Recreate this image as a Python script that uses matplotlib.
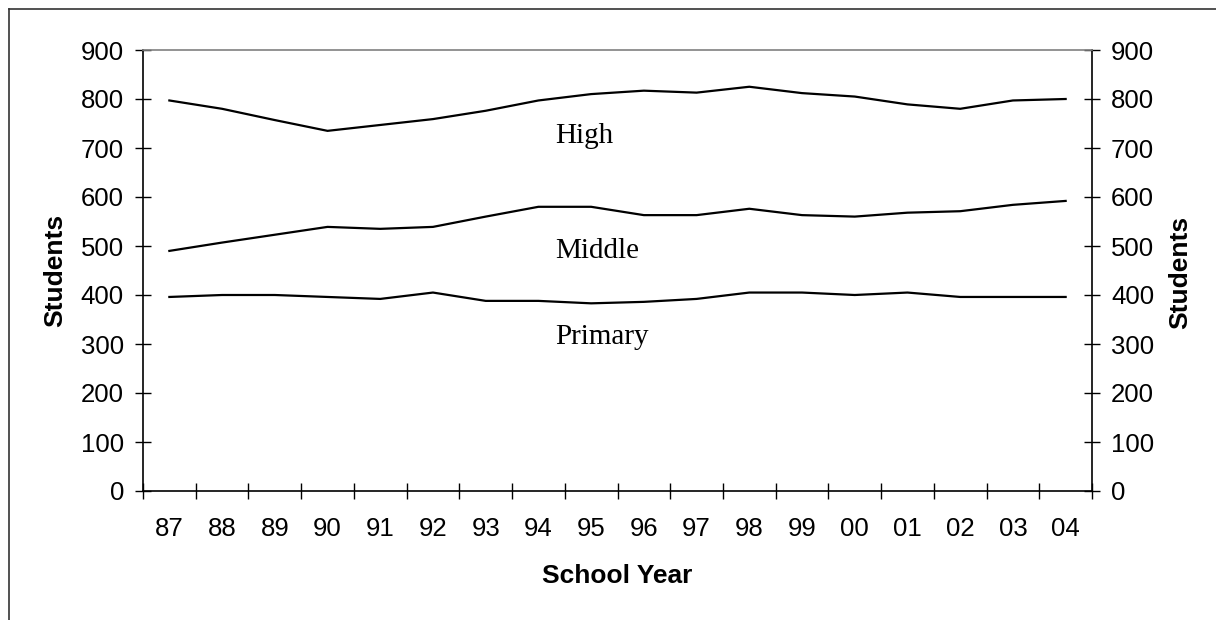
import matplotlib
matplotlib.use("Agg")
import matplotlib.pyplot as plt
from matplotlib.lines import Line2D

years = ["87", "88", "89", "90", "91", "92", "93", "94", "95",
         "96", "97", "98", "99", "00", "01", "02", "03", "04"]
high = [797, 780, 757, 735, 747, 759, 776, 797, 810,
        817, 813, 825, 812, 805, 789, 780, 797, 800]
middle = [490, 507, 523, 539, 535, 539, 560, 580, 580,
          563, 563, 576, 563, 560, 568, 571, 584, 592]
primary = [396, 400, 400, 396, 392, 405, 388, 388, 383,
           386, 392, 405, 405, 400, 405, 396, 396, 396]
series_labels = ["High", "Middle", "Primary"]
label_values = [725, 490, 315]
yticks = list(range(0, 1000, 100))

W, H = 1216, 620
fig = plt.figure(figsize=(W / 100, H / 100), dpi=100)
ax = fig.add_axes([143 / W, 1 - 491 / H, (1092 - 143) / W, (491 - 50) / H])

x = list(range(len(years)))
for s in (high, middle, primary):
    ax.plot(x, s, color="black", lw=1.6, solid_joinstyle="miter")

lab_x = 7.32
for name, v in zip(series_labels, label_values):
    ax.text(lab_x, v, name, family="Liberation Serif", fontsize=21,
            ha="left", va="center")

ax.set_xlim(-0.5, len(years) - 0.5)
ax.set_ylim(0, 900)
ax.set_yticks(yticks)
ax.set_xticks(x)
ax.set_xticklabels(years)
ax.set_xticks([i - 0.5 for i in range(len(years) + 1)], minor=True)

FS = 18.5
ax.tick_params(axis="x", which="major", length=0, pad=19)
ax.tick_params(axis="x", which="minor", direction="inout", length=12, width=1)
ax.tick_params(axis="y", direction="inout", length=11.5, width=1, pad=8,
               left=True, right=True, labelleft=True, labelright=True)
for lab in ax.get_xticklabels():
    lab.set_fontfamily("Liberation Sans")
    lab.set_fontsize(FS)
for t in ax.yaxis.get_major_ticks():
    for lab in (t.label1, t.label2):
        lab.set_fontfamily("Liberation Sans")
        lab.set_fontsize(FS)

ax.spines["top"].set_color("#808080")
for sp in ("left", "right", "bottom"):
    ax.spines[sp].set_color("black")
for sp in ax.spines.values():
    sp.set_linewidth(1.2)

ax.set_xlabel("School Year", family="Liberation Sans", fontsize=19,
              fontweight="bold", labelpad=16)
ax.set_ylabel("Students", family="Liberation Sans", fontsize=19,
              fontweight="bold", labelpad=10)
fig.text(1180 / W, 1 - 272 / H, "Students", family="Liberation Sans",
         fontsize=19, fontweight="bold", rotation=90, ha="center", va="center")

# outer frame (left and top only visible)
fy = 1 - 8.5 / H
fx = 8.5 / W
fig.add_artist(Line2D([fx, fx], [0, fy], transform=fig.transFigure,
                      color="#333333", lw=1.2))
fig.add_artist(Line2D([fx, 1], [fy, fy], transform=fig.transFigure,
                      color="#333333", lw=1.2))

fig.savefig("out.png", dpi=100)
